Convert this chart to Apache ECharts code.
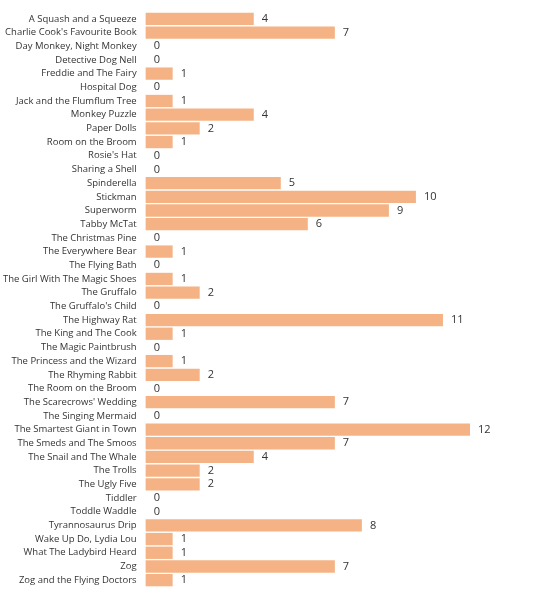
<!DOCTYPE html>
<html>
<head>
<meta charset="utf-8">
<script src="https://cdn.jsdelivr.net/npm/echarts@6/dist/echarts.min.js"></script>
<style>html,body{margin:0;padding:0;background:#fff}#chart{width:538px;height:600px}</style>
</head>
<body>
<div id="chart"></div>
<script>
var titles = ['A Squash and a Squeeze', "Charlie Cook's Favourite Book", 'Day Monkey, Night Monkey', 'Detective Dog Nell',
  'Freddie and The Fairy', 'Hospital Dog', 'Jack and the Flumflum Tree', 'Monkey Puzzle', 'Paper Dolls',
  'Room on the Broom', "Rosie's Hat", 'Sharing a Shell', 'Spinderella', 'Stickman', 'Superworm', 'Tabby McTat',
  'The Christmas Pine', 'The Everywhere Bear', 'The Flying Bath', 'The Girl With The Magic Shoes', 'The Gruffalo',
  "The Gruffalo's Child", 'The Highway Rat', 'The King and The Cook', 'The Magic Paintbrush',
  'The Princess and the Wizard', 'The Rhyming Rabbit', 'The Room on the Broom', "The Scarecrows' Wedding",
  'The Singing Mermaid', 'The Smartest Giant in Town', 'The Smeds and The Smoos', 'The Snail and The Whale',
  'The Trolls', 'The Ugly Five', 'Tiddler', 'Toddle Waddle', 'Tyrannosaurus Drip', 'Wake Up Do, Lydia Lou',
  'What The Ladybird Heard', 'Zog', 'Zog and the Flying Doctors'];
var counts = [4, 7, 0, 0, 1, 0, 1, 4, 2, 1, 0, 0, 5, 10, 9, 6, 0, 1, 0, 1, 2, 0, 11, 1, 0, 1, 2, 0, 7, 0, 12, 7, 4, 2, 2, 0, 0, 8, 1, 1, 7, 1];

var myChart = echarts.init(document.getElementById('chart'));
myChart.setOption({
  animation: false,
  textStyle: {fontFamily: 'Open Sans'},
  grid: {left: 141, right: 68, top: 12, bottom: 13},
  xAxis: {type: 'value', min: 0, max: 12, show: false},
  yAxis: {
    type: 'category', inverse: true, data: titles,
    axisLine: {show: false}, axisTick: {show: false},
    axisLabel: {color: '#333', fontSize: 9.5, margin: 9}
  },
  series: [{
    type: 'bar', data: counts, barCategoryGap: '10%',
    itemStyle: {color: '#f5b385'},
    label: {show: true, position: 'right', color: '#333', fontSize: 11, distance: 8}
  }]
});
</script>
</body>
</html>
